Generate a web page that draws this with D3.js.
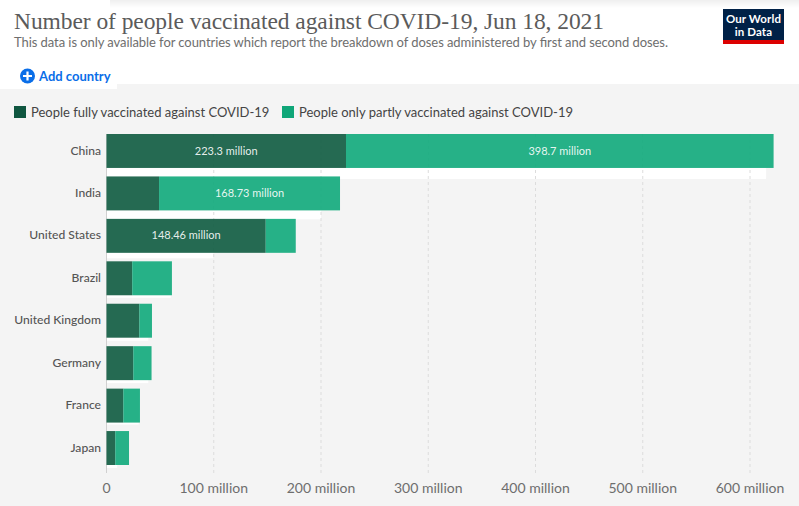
<!DOCTYPE html>
<html><head><meta charset="utf-8">
<script src="https://cdn.jsdelivr.net/npm/d3@7/dist/d3.min.js"></script>
<style>html,body{margin:0;padding:0;background:#fff;overflow:hidden}svg{display:block}text{font-family:Lato,sans-serif}</style>
</head><body><svg id="c" width="799" height="506"><defs><linearGradient id="sh" x1="0" y1="0" x2="0" y2="1"><stop offset="0" stop-color="#efefef"/><stop offset="1" stop-color="#ffffff"/></linearGradient></defs></svg>
<script>
const countries = ["China","India","United States","Brazil","United Kingdom","Germany","France","Japan"];
const fully = [223.3,49,148.46,24,30.6,25,15.7,8.2];
const partly = [398.7,168.73,28,37,11.8,17,15.5,12.8];
const ticks = [0,100,200,300,400,500,600];
const seriesNames = ["People fully vaccinated against COVID-19","People only partly vaccinated against COVID-19"];
// extent (millions) of the pale bands left beneath each bar in the source image
const paleEnds = [615,200,99.5,60,39,39,30,10];
const paleDepth = [11,9,5.5,2.5,3,3,2,3];

const svg = d3.select("#c");
const x = d3.scaleLinear().domain([0,600]).range([106.5,750]);
const y = d3.scaleBand().domain(countries).range([134,465]).paddingInner(0.2).paddingOuter(0);
const dark="#0e5b40", light="#10aa7b";

// backgrounds
svg.append("rect").attr("width",799).attr("height",506).attr("fill","#fff");
svg.append("rect").attr("x",110).attr("width",689).attr("height",8).attr("fill","url(#sh)");
svg.append("rect").attr("y",84).attr("width",799).attr("height",422).attr("fill","#f4f4f4");
svg.append("rect").attr("y",84).attr("width",117).attr("height",5).attr("fill","#fff");

// title block
svg.append("text").attr("x",14).attr("y",29).attr("textLength",590).attr("lengthAdjust","spacing")
  .style("font-family","'Liberation Serif',serif").style("font-size","23.5px").attr("fill","#5b5b5b")
  .text("Number of people vaccinated against COVID-19, Jun 18, 2021");
svg.append("text").attr("x",14).attr("y",47).style("font-size","13px").attr("fill","#6e6e6e")
  .attr("textLength",654).text("This data is only available for countries which report the breakdown of doses administered by first and second doses.");

// add country
svg.append("circle").attr("cx",27.5).attr("cy",76).attr("r",7.5).attr("fill","#0a6ee8");
svg.append("path").attr("d","M27.5 71.5v9M23 76h9").attr("stroke","#fff").attr("stroke-width",2.2);
svg.append("text").attr("x",39).attr("y",81).style("font-size","13px").style("font-weight",700).attr("fill","#0a6ee8").text("Add country");

// logo
svg.append("rect").attr("x",723).attr("y",9).attr("width",61).attr("height",35).attr("fill","#002147");
svg.append("rect").attr("x",723).attr("y",40).attr("width",61).attr("height",4).attr("fill","#dc0000");
svg.selectAll(".lg").data(["Our World","in Data"]).join("text").attr("class","lg")
  .attr("x",753.5).attr("y",(d,i)=>23+i*13).attr("text-anchor","middle").attr("fill","#fff")
  .style("font-size","11.5px").style("font-weight",700).style("letter-spacing","0.1px").text(d=>d);

// legend
const legendX=[14,282];
svg.selectAll(".ls").data(seriesNames).join("rect").attr("class","ls")
  .attr("x",(d,i)=>legendX[i]).attr("y",106).attr("width",12).attr("height",12)
  .attr("fill",(d,i)=>i?"#0fa678":"#0f5640");
svg.selectAll(".lt").data(seriesNames).join("text").attr("class","lt")
  .attr("x",(d,i)=>legendX[i]+17).attr("y",117).style("font-size","13px").attr("fill","#444").text(d=>d);

// pale bands
svg.selectAll(".pale").data(countries).join("rect").attr("class","pale")
  .attr("x",x(0)).attr("y",c=>y(c)+y.bandwidth())
  .attr("width",(c,i)=>x(paleEnds[i])-x(0)).attr("height",(c,i)=>paleDepth[i]).attr("fill","#fff");

// grid
svg.selectAll(".g").data(ticks.slice(1)).join("line").attr("class","g")
  .attr("x1",d=>x(d)).attr("x2",d=>x(d)).attr("y1",134).attr("y2",473)
  .attr("stroke","#dcdcdc").attr("stroke-dasharray","3,3");
svg.append("line").attr("x1",x(0)).attr("x2",x(0)).attr("y1",134).attr("y2",473).attr("stroke","#d0d0d0");

// bars
const row=svg.selectAll(".row").data(countries).join("g").attr("class","row");
row.append("rect").attr("x",x(0)).attr("y",c=>y(c)).attr("height",y.bandwidth())
  .attr("width",(c,i)=>x(fully[i])-x(0)).attr("fill",dark).attr("fill-opacity",.9);
row.append("rect").attr("x",(c,i)=>x(fully[i])).attr("y",c=>y(c)).attr("height",y.bandwidth())
  .attr("width",(c,i)=>x(fully[i]+partly[i])-x(fully[i])).attr("fill",light).attr("fill-opacity",.9);
row.append("text").attr("x",x(0)-5.5).attr("y",c=>y(c)+y.bandwidth()/2+3.6).attr("text-anchor","end")
  .style("font-size","12.1px").style("font-weight",500).attr("fill","#555").text(c=>c);

// value labels on the wide segments
const fmt=v=>v+" million";
row.each(function(c,i){
  const g=d3.select(this);
  [[0,fully[i]],[fully[i],partly[i]]].forEach(([s,v])=>{
    if(x(v)-x(0)<95) return;
    g.append("text").attr("x",x(s+v/2)).attr("y",y(c)+y.bandwidth()/2+3.6).attr("text-anchor","middle")
     .style("font-size","11px").attr("fill","#fff").attr("fill-opacity",.9).text(fmt(v));
  });
});

// axis labels
svg.selectAll(".t").data(ticks).join("text").attr("class","t")
  .attr("x",d=>x(d)).attr("y",493).attr("text-anchor","middle")
  .style("font-size","14px").attr("fill","#6e6e6e").text(d=>d===0?"0":d+" million");
</script></body></html>
